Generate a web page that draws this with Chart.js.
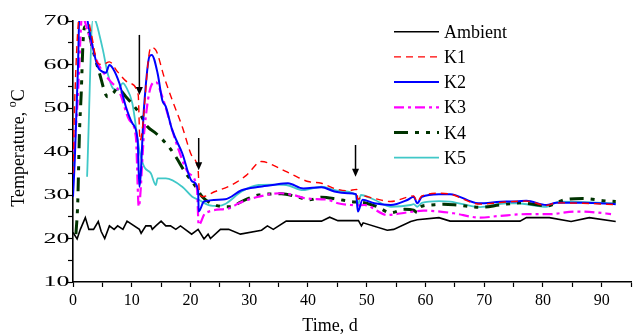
<!DOCTYPE html>
<html><head><meta charset="utf-8">
<script src="https://cdn.jsdelivr.net/npm/chart.js@4"></script>
<style>html,body{margin:0;padding:0;background:#fff}</style>
</head><body>
<canvas id="c" width="635" height="334"></canvas>
<script>
// ---------- data ----------
const seriesNames = ['Ambient','K1','K2','K3','K4','K5'];

const ambientDays = [0,0.7,1.25,2.1,2.7,3.5,4.3,4.8,5.4,6.2,7.0,7.6,8.5,9.2,11.3,11.6,12.4,13.25,13.5,14.1,15.0,15.8,16.6,17.5,18.3,20.2,21.3,22.3,23.0,23.4,25.1,26.5,28.5,32.1,33.1,34.1,36.3,42.3,43.7,45.1,48.6,49.1,49.4,53.5,54.6,57.5,58.6,62.3,64.2,76.1,77.2,81.1,84.8,87.9,92.4];
const ambientTemp = [21.4,19.9,22.1,24.8,22.1,22.1,23.9,21.6,20.0,22.9,22.1,22.9,22.1,24.0,22.1,21.2,22.9,22.9,22.1,22.9,24.0,22.9,22.9,22.1,22.9,21.0,22.1,19.9,21.0,20.0,22.1,22.1,21.0,21.9,22.9,22.1,24.0,24.0,24.9,24.1,24.1,22.9,23.6,21.9,22.1,23.9,24.3,24.8,24.0,24.0,24.8,24.8,23.9,24.8,23.9];

const k1Days = [0,0.3,1.2,2.2,3.1,4.2,5.1,6.2,7.6,9.6,11.1,11.4,13.25,14.1,15.5,16.9,18.6,20.3,21.3,21.5,22.0,24.2,27.0,29.5,32.1,35.2,37.5,40.0,42.3,44.5,46.8,48.3,48.5,49.3,51.3,54.1,56.9,58.0,58.6,59.4,62.5,64.2,69.3,71.6,73.8,77.2,80.6,82.3,86.8,92.4];
const k1Temp = [35,52,72,72,67.2,60.3,60.0,60.6,58.3,55.7,53.0,42.5,63.9,63.3,57.2,51.8,45.7,38.8,35.7,31.0,29.6,30.8,32.3,34.5,37.7,36.1,34.6,33.1,32.7,31.5,31.0,31.3,29.0,29.8,29.2,28.5,29.5,29.8,28.5,29.8,30.4,30.2,27.9,28.1,28.4,28.6,27.6,28.2,28.1,27.8];

const k2Days = [0,0.3,0.85,1.1,2.0,3.1,4.2,5.1,5.6,6.2,6.8,7.9,9.0,10.1,11.0,11.3,12.1,13.0,13.4,14.4,15.2,15.8,16.9,18.6,20.3,21.3,21.4,22.3,25.9,28.7,31.8,34.0,36.6,39.2,42.3,44.5,46.8,48.2,48.5,49.3,51.3,54.1,57.0,58.0,58.6,59.4,62.3,64.2,69.0,73.8,75.5,77.2,80.6,82.3,86.8,92.4];
const k2Temp = [29.6,38,59.5,72,72,65.6,59.5,58.3,58.1,59.9,59.1,55.7,50.3,46.5,42.6,31.9,50.3,61.8,62.2,58.0,51.8,50.3,44.9,39.6,33.1,31.1,26.2,28.5,29.0,31.1,31.9,32.3,32.7,31.5,31.8,30.8,30.4,30.2,26.2,28.9,28.1,27.7,28.9,29.6,28.1,29.6,30.2,30.2,28.1,28.5,28.5,28.7,27.7,28.2,28.2,27.9];

const k3Days = [0.2,0.8,1.6,2.0,2.8,4.0,6.2,7.9,9.6,10.7,11.2,12.1,13.25,14.1,15.2,16.9,18.0,19.7,21.1,21.4,22.5,26.5,28.2,31.6,35.2,37.5,39.7,43.4,45.1,47.3,48.5,49.6,53.5,56.9,59.7,62.5,64.8,69.3,72.7,77.2,81.1,85.6,89.0,91.6];
const k3Temp = [40,52,72,70,66.4,61.0,56.4,53.7,47.2,43.4,27.3,44.2,54.9,56.0,52.6,44.9,40.3,35.0,31.5,23.1,25.8,26.9,28.1,29.6,30.4,30.0,29.2,28.9,28.1,27.7,27.6,27.7,25.4,26.0,26.4,26.2,25.8,24.8,25.2,25.6,25.6,26.2,26.0,25.6];

const k4Days = [0.5,0.8,1.1,1.4,1.7,2.0,2.4,3.4,4.5,5.9,6.8,7.6,9.0,11.3,12.7,14.1,16.3,17.5,19.2,20.9,22.0,24.2,26.5,29.3,31.6,33.0,35.5,38.1,40.3,42.3,45.1,47.3,49.6,51.8,54.1,56.4,58.0,58.6,59.2,60.9,63.1,65.4,69.3,72.7,76.1,80.6,83.7,86.8,90.2,92.4];
const k4Temp = [21,28,44.3,53.4,64.9,68.7,68.5,63.3,58.0,52.6,53.4,54.5,52.6,48.8,45.7,44.2,41.1,38.8,35.0,31.9,29.6,27.7,27.3,28.9,30.0,30.2,30.3,29.6,28.9,29.5,29.0,28.5,28.2,27.3,25.9,26.7,26.5,26.0,27.3,27.7,27.9,27.7,27.2,27.7,28.2,27.5,28.9,29.2,28.7,28.5];

const k5Days = [2.4,3.4,3.9,4.5,5.1,5.9,6.8,7.6,8.5,9.0,10.1,11.3,12.1,13.25,14.1,14.4,15.8,18.6,20.3,21.4,23.1,24.8,26.0,28.7,31.6,34.0,36.3,39.2,42.3,45.0,48.2,48.5,49.0,51.3,54.1,57.5,58.0,58.6,59.4,62.3,64.2,69.3,73.8,75.5,80.6,82.8,92.4];
const k5Temp = [34.2,70.5,69.8,66.8,63.3,58.0,54.5,54.1,55.7,54.9,51.1,40.3,36.5,35.0,32.3,33.8,33.8,31.9,29.6,28.9,27.7,27.5,28.0,30.8,32.3,32.4,32.3,31.1,31.9,31.0,30.0,27.5,30.0,28.9,27.3,27.7,27.9,27.3,28.2,28.6,28.5,27.2,28.1,28.1,27.3,28.5,28.1];

// arrows marking events (day, start temperature, tip temperature)
const arrowDays = [11.3, 21.4, 48.1];
const arrowFrom = [66.8, 43.1, 41.5];
const arrowTo   = [53.0, 35.7, 34.2];

const xTicks = [0,10,20,30,40,50,60,70,80,90];
const yTicks = [10,20,30,40,50,60,70];

// ---------- styling ----------
const styles = [
  {color:'#000000', width:1.6, dash:[]},
  {color:'#ff0000', width:1.4, dash:[7,5]},
  {color:'#0000ff', width:2, dash:[]},
  {color:'#ff00ff', width:2.2, dash:[10,4,3,4]},
  {color:'#003300', width:3, dash:[14,7,4,7,4,7]},
  {color:'#40c8c8', width:1.8, dash:[]}
];
const daysList = [ambientDays,k1Days,k2Days,k3Days,k4Days,k5Days];
const tempList = [ambientTemp,k1Temp,k2Temp,k3Temp,k4Temp,k5Temp];

const datasets = seriesNames.map((n,i)=>({
  label:n,
  data: daysList[i].map((d,j)=>({x:d, y:tempList[i][j]})),
  borderColor: styles[i].color,
  borderWidth: styles[i].width,
  borderDash: styles[i].dash,
  pointRadius:0,
  fill:false,
  cubicInterpolationMode: i===0 ? 'default' : 'monotone',
  tension: 0
}));

const SERIF = '"Liberation Serif","DejaVu Serif","Times New Roman",serif';

const decor = {
  id:'decor',
  afterDatasetsDraw(chart){
    const ctx = chart.ctx, xs = chart.scales.x, ys = chart.scales.y;
    ctx.save();
    // arrows
    ctx.strokeStyle='#000'; ctx.fillStyle='#000'; ctx.lineWidth=1.5; ctx.setLineDash([]);
    arrowDays.forEach((d,i)=>{
      const px = xs.getPixelForValue(d);
      const y0 = ys.getPixelForValue(arrowFrom[i]);
      const y1 = ys.getPixelForValue(arrowTo[i]);
      ctx.beginPath(); ctx.moveTo(px,y0); ctx.lineTo(px,y1-6); ctx.stroke();
      ctx.beginPath(); ctx.moveTo(px-3.5,y1-8); ctx.lineTo(px+3.5,y1-8); ctx.lineTo(px,y1); ctx.closePath(); ctx.fill();
    });
    ctx.restore();
  },
  afterDraw(chart){
    const ctx = chart.ctx, ys = chart.scales.y, area = chart.chartArea;
    ctx.save();
    // y tick labels (wide glyphs as in reference)
    ctx.fillStyle='#000'; ctx.font='14px '+SERIF; ctx.textBaseline='middle';
    yTicks.forEach(v=>{
      const py = ys.getPixelForValue(v);
      const txt = String(v);
      const w = ctx.measureText(txt).width*1.85;
      ctx.save(); ctx.translate(69.5 - w, py); ctx.scale(1.85,1);
      ctx.textAlign='left'; ctx.fillText(txt,0,0.5); ctx.restore();
    });
    // x axis title
    ctx.font='18px '+SERIF; ctx.textAlign='center'; ctx.textBaseline='alphabetic';
    ctx.fillText('Time, d', 330, 331);
    // y axis title with superscript o
    ctx.save();
    ctx.translate(18, 148); ctx.rotate(-Math.PI/2);
    const t1='Temperature, ', t2='o', t3='C';
    ctx.font='18px '+SERIF; const w1=ctx.measureText(t1).width, w3=ctx.measureText(t3).width;
    ctx.font='12px '+SERIF; const w2=ctx.measureText(t2).width;
    let x = -(w1+w2+w3)/2;
    ctx.textAlign='left'; ctx.textBaseline='alphabetic';
    ctx.font='18px '+SERIF; ctx.fillText(t1,x,6); x+=w1;
    ctx.font='12px '+SERIF; ctx.fillText(t2,x,-2); x+=w2;
    ctx.font='18px '+SERIF; ctx.fillText(t3,x,6);
    ctx.restore();
    // legend
    seriesNames.forEach((n,i)=>{
      const ly = 31.7 + i*25.2;
      ctx.beginPath(); ctx.strokeStyle=styles[i].color; ctx.lineWidth=styles[i].width;
      ctx.setLineDash(styles[i].dash);
      ctx.moveTo(394,ly); ctx.lineTo(439,ly); ctx.stroke();
      ctx.setLineDash([]);
      ctx.fillStyle='#000'; ctx.font='18px '+SERIF; ctx.textAlign='left'; ctx.textBaseline='alphabetic';
      ctx.fillText(n, 444, ly+6);
    });
    ctx.restore();
  }
};

new Chart(document.getElementById('c'), {
  type:'line',
  data:{datasets},
  plugins:[decor],
  options:{
    responsive:false, devicePixelRatio:1, animation:false,
    layout:{padding:{top:21,right:1,left:0,bottom:0}},
    plugins:{legend:{display:false}, tooltip:{enabled:false}},
    scales:{
      x:{type:'linear', min:0, max:95,
        afterFit(s){ s.height = 52; },
        afterBuildTicks(s){ s.ticks = []; for(let v=0; v<=95; v+=5) s.ticks.push({value:v}); },
        ticks:{stepSize:5, autoSkip:false, maxRotation:0, padding:4, color:'#000',
          font:{family:SERIF, size:16},
          callback:(v)=> xTicks.includes(v) ? String(v) : ''},
        grid:{drawOnChartArea:false, drawTicks:true, tickLength:5, tickColor:'#000', tickWidth:1.2},
        border:{display:true, color:'#000', width:1.6}
      },
      y:{type:'linear', min:10, max:70,
        afterFit(s){ s.width = 73; },
        afterBuildTicks(s){ s.ticks = []; for(let v=10; v<=70; v+=5) s.ticks.push({value:v}); },
        ticks:{display:false, stepSize:5},
        grid:{drawOnChartArea:false, drawTicks:true, tickLength:5, tickColor:'#000', tickWidth:1.2},
        border:{display:true, color:'#000', width:1.6}
      }
    }
  }
});
</script>
</body></html>
